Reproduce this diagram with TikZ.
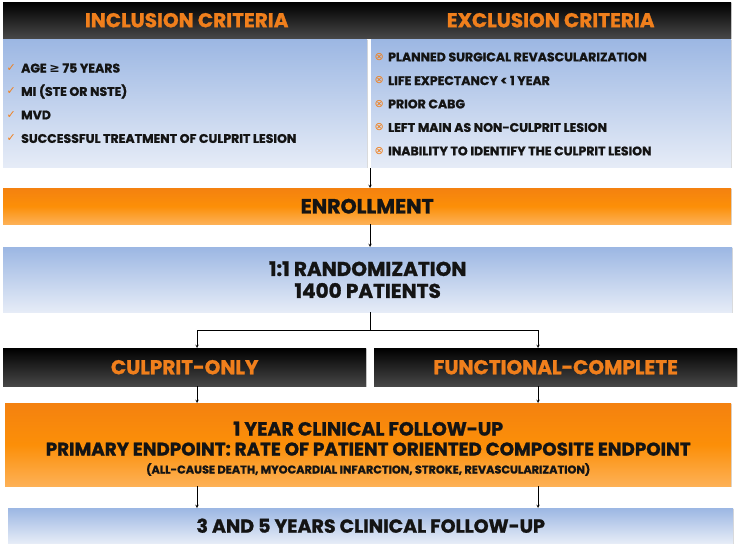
\documentclass[tikz,border=0pt]{standalone}
\usepackage{fontspec}
\setmainfont{Poppins}[BoldFeatures={FakeBold=1.2}]
\newfontfamily\symfont{DejaVu Sans}
\usepackage{xcolor}
\usetikzlibrary{arrows,positioning,shadows}
\definecolor{critorange}{HTML}{F07F1C}
\definecolor{orangetop}{HTML}{EC7417}
\definecolor{orangemid}{HTML}{FC8F08}
\definecolor{orangelite}{HTML}{FDB560}
\definecolor{bluetop}{HTML}{9CB7E3}
\definecolor{bluebot}{HTML}{E6ECF7}
\definecolor{inktext}{HTML}{141414}
\pgfdeclareverticalshading{orangefade}{100bp}{color(0bp)=(white); color(22bp)=(orangelite); color(50bp)=(orangemid); color(100bp)=(orangetop)}
\tikzset{
    panel/.style={draw=none, inner sep=0pt, anchor=north west,
        drop shadow={shadow xshift=0.8pt, shadow yshift=-1.2pt, opacity=0.3}},
    darkbox/.style={panel, top color=black, bottom color=black!72,
        text=critorange, font=\bfseries\fontsize{20}{24}\selectfont},
    bluebox/.style={panel, top color=bluetop, bottom color=bluebot,
        text=inktext, font=\bfseries\fontsize{19}{23}\selectfont, align=center},
    orangebox/.style={panel, shading=orangefade,
        text=inktext, font=\bfseries\fontsize{19}{23}\selectfont, align=center},
    crititem/.style={anchor=west, inner sep=0pt, text=inktext,
        font=\bfseries\fontsize{12.5}{16}\selectfont},
    tickmark/.style={anchor=east, inner sep=0pt, text=critorange,
        font=\symfont\fontsize{11}{11}\selectfont},
}
\begin{document}
\begin{tikzpicture}[x=1pt,y=-1pt]
        \useasboundingbox (0,0) rectangle (741,551);
        \coordinate (TL) at (3,2);
        \coordinate (TR) at (370,2);
        \node[darkbox, minimum width=367pt, minimum height=36pt] (inchead) at (TL) {INCLUSION CRITERIA};
        \node[darkbox, minimum width=361pt, minimum height=36pt] (exchead) at (TR) {EXCLUSION CRITERIA};
        \node[bluebox, minimum width=364pt, minimum height=128pt] (incbox) at (3,39) {};
        \node[bluebox, minimum width=360pt, minimum height=128pt] (excbox) at (371,39) {};
        \foreach \txt [count=\i] in {AGE {\symfont\char"2265} 75 YEARS, MI (STE OR NSTE), MVD,
            SUCCESSFUL TREATMENT OF CULPRIT LESION}
            \node[crititem] (inc\i) at (21,{68+23.5*(\i-1)}) {\txt};
        \foreach \i in {1,...,4}
            \node[tickmark] at ([xshift=-5pt]inc\i.west) {\char"2713};
        \foreach \txt [count=\i] in {PLANNED SURGICAL REVASCULARIZATION, LIFE EXPECTANCY < 1 YEAR,
            PRIOR CABG, LEFT MAIN AS NON-CULPRIT LESION, INABILITY TO IDENTIFY THE CULPRIT LESION}
            \node[crititem] (exc\i) at (388,{57+23.5*(\i-1)}) {\txt};
        \foreach \i in {1,...,5}
            \node[tickmark] at ([xshift=-4pt]exc\i.west) {\char"2297};
        \coordinate (critbot) at (370,168);
        \node[orangebox, minimum width=728pt, minimum height=36pt, font=\bfseries\fontsize{20.5}{24}\selectfont] (enroll) at (3,188) {ENROLLMENT};
        \node[bluebox, minimum width=729pt, minimum height=65pt, font=\bfseries\fontsize{20}{23}\selectfont] (rand) at (3,247) {1:1 RANDOMIZATION\\[-1pt]1400 PATIENTS};
        \node[darkbox, minimum width=363pt, minimum height=38pt] (culprit) at (3,348) {CULPRIT-ONLY};
        \node[darkbox, minimum width=363pt, minimum height=38pt] (functional) at (374,348) {FUNCTIONAL-COMPLETE};
        \node[orangebox, minimum width=726pt, minimum height=83pt] (oneyear) at (5,403)
            {\rule{0pt}{22pt}1 YEAR CLINICAL FOLLOW-UP\\[-3pt]
             {\fontsize{18.3}{22}\selectfont PRIMARY ENDPOINT: RATE OF PATIENT ORIENTED COMPOSITE ENDPOINT}\\[-5pt]
             {\fontsize{11.3}{14}\selectfont (ALL-CAUSE DEATH, MYOCARDIAL INFARCTION, STROKE, REVASCULARIZATION)}};
        \node[bluebox, minimum width=725pt, minimum height=35pt] (longterm) at (8,508) {3 AND 5 YEARS CLINICAL FOLLOW-UP};
        \coordinate (armL) at (197,330);
        \coordinate (armR) at (538,330);
        \begin{scope}[->,>=stealth,line width=0.5pt]
            \draw (critbot) -- (critbot |- enroll.north);
            \draw (critbot |- enroll.south) -- (critbot |- rand.north);
            \draw[-] (critbot |- rand.south) -- (critbot |- armL);
            \draw[-] (armL) -- (armR);
            \draw (armL) -- (armL |- culprit.north);
            \draw (armR) -- (armR |- functional.north);
            \draw (armL |- culprit.south) -- (armL |- oneyear.north);
            \draw (armR |- functional.south) -- (armR |- oneyear.north);
            \draw (armL |- oneyear.south) -- (armL |- longterm.north);
            \draw (armR |- oneyear.south) -- (armR |- longterm.north);
        \end{scope}
    \end{tikzpicture}
\end{document}
